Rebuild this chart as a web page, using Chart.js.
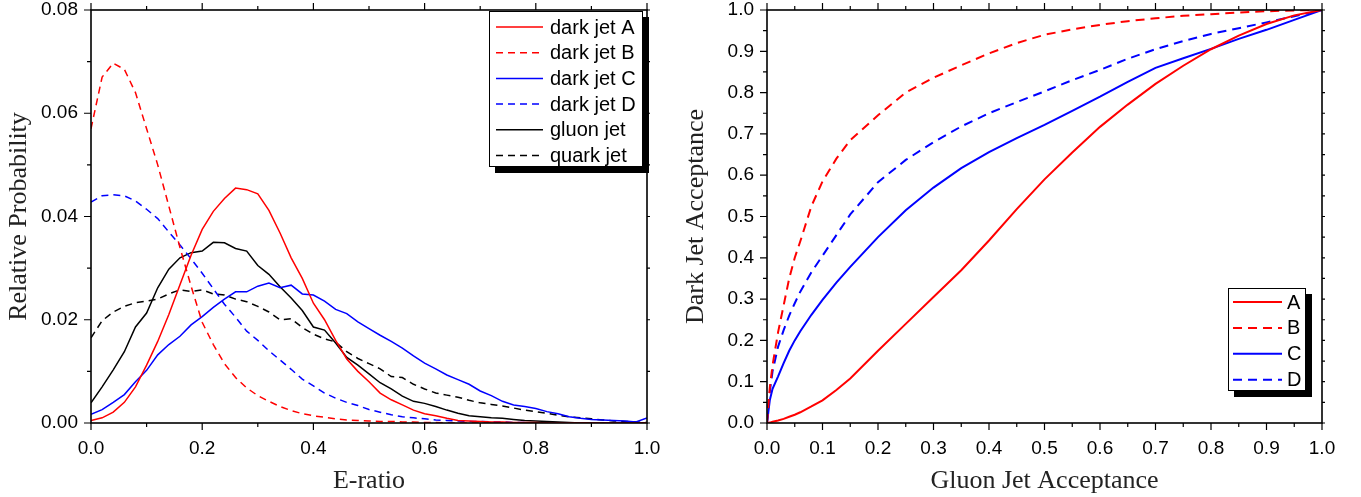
<!DOCTYPE html>
<html>
<head>
<meta charset="utf-8">
<script src="https://cdn.jsdelivr.net/npm/chart.js@4/dist/chart.umd.min.js"></script>
<style>
  html, body { margin: 0; padding: 0; background: #fff; }
  #wrap { position: relative; width: 1361px; height: 497px; }
  #left { position: absolute; left: 0; top: 0; }
  #right { position: absolute; left: 680px; top: 0; }
</style>
</head>
<body>
<div id="wrap">
  <canvas id="left" width="680" height="497"></canvas>
  <canvas id="right" width="681" height="497"></canvas>
</div>
<script>
// left panel: E-ratio distributions (every 0.02)
const eRatio = [0.00, 0.02, 0.04, 0.06, 0.08, 0.10, 0.12, 0.14, 0.16, 0.18,
  0.20, 0.22, 0.24, 0.26, 0.28, 0.30, 0.32, 0.34, 0.36, 0.38,
  0.40, 0.42, 0.44, 0.46, 0.48, 0.50, 0.52, 0.54, 0.56, 0.58,
  0.60, 0.62, 0.64, 0.66, 0.68, 0.70, 0.72, 0.74, 0.76, 0.78,
  0.80, 0.82, 0.84, 0.86, 0.88, 0.90, 0.92, 0.94, 0.96, 0.98, 1.00];

const darkJetA = [0.0005, 0.0010, 0.0021, 0.0040, 0.0070, 0.0112, 0.0158, 0.0210, 0.0268, 0.0325,
  0.0375, 0.0410, 0.0435, 0.0455, 0.0452, 0.0444, 0.0412, 0.0368, 0.0320, 0.0280,
  0.0232, 0.0200, 0.0160, 0.0124, 0.0100, 0.0080, 0.0058, 0.0045, 0.0035, 0.0025,
  0.0018, 0.0014, 0.0009, 0.0005, 0.0004, 0.0003, 0.0002, 0.0002, 0.0001, 0.0001,
  0.0001, 0, 0, 0, 0, 0, 0, 0, 0, 0, 0];
const darkJetB = [0.0570, 0.0670, 0.0697, 0.0685, 0.0640, 0.0570, 0.0500, 0.0420, 0.0340, 0.0265,
  0.0195, 0.0152, 0.0115, 0.0088, 0.0068, 0.0053, 0.0042, 0.0032, 0.0024, 0.0018,
  0.0014, 0.0011, 0.0008, 0.0006, 0.0005, 0.0004, 0.0003, 0.0003, 0.0002, 0.0002,
  0.0001, 0.0001, 0, 0, 0, 0, 0, 0, 0, 0,
  0, 0, 0, 0, 0, 0, 0, 0, 0, 0, 0];
const darkJetC = [0.0017, 0.0026, 0.0040, 0.0055, 0.0080, 0.0102, 0.0132, 0.0152, 0.0168, 0.0190,
  0.0206, 0.0224, 0.0240, 0.0254, 0.0254, 0.0265, 0.0271, 0.0262, 0.0267, 0.0250,
  0.0248, 0.0236, 0.0220, 0.0212, 0.0196, 0.0183, 0.0170, 0.0158, 0.0145, 0.0130,
  0.0116, 0.0105, 0.0093, 0.0084, 0.0075, 0.0062, 0.0053, 0.0042, 0.0035, 0.0032,
  0.0028, 0.0022, 0.0018, 0.0012, 0.0009, 0.0007, 0.0006, 0.0005, 0.0004, 0.0002, 0.0010];
const darkJetD = [0.0428, 0.0440, 0.0442, 0.0440, 0.0430, 0.0414, 0.0396, 0.0370, 0.0345, 0.0318,
  0.0290, 0.0260, 0.0230, 0.0205, 0.0178, 0.0160, 0.0140, 0.0122, 0.0104, 0.0085,
  0.0072, 0.0058, 0.0048, 0.0040, 0.0034, 0.0026, 0.0021, 0.0016, 0.0012, 0.0010,
  0.0008, 0.0006, 0.0005, 0.0004, 0.0003, 0.0003, 0.0002, 0.0002, 0.0001, 0.0001,
  0, 0, 0, 0, 0, 0, 0, 0, 0, 0, 0];
const gluonJet = [0.0039, 0.0070, 0.0103, 0.0138, 0.0186, 0.0213, 0.0262, 0.0298, 0.0320, 0.0330,
  0.0333, 0.0350, 0.0349, 0.0338, 0.0333, 0.0305, 0.0288, 0.0264, 0.0242, 0.0218,
  0.0186, 0.0180, 0.0155, 0.0127, 0.0112, 0.0095, 0.0078, 0.0066, 0.0052, 0.0042,
  0.0038, 0.0032, 0.0025, 0.0019, 0.0014, 0.0012, 0.0010, 0.0009, 0.0007, 0.0005,
  0.0004, 0.0003, 0.0002, 0.0001, 0, 0, 0, 0, 0, 0, 0];
const quarkJet = [0.0165, 0.0198, 0.0215, 0.0226, 0.0233, 0.0236, 0.0240, 0.0250, 0.0258, 0.0255,
  0.0258, 0.0250, 0.0248, 0.0240, 0.0235, 0.0226, 0.0215, 0.0200, 0.0202, 0.0185,
  0.0172, 0.0163, 0.0157, 0.0138, 0.0125, 0.0115, 0.0105, 0.0090, 0.0088, 0.0075,
  0.0066, 0.0058, 0.0054, 0.0050, 0.0044, 0.0039, 0.0036, 0.0033, 0.0029, 0.0025,
  0.0022, 0.0019, 0.0015, 0.0012, 0.0010, 0.0008, 0.0006, 0.0004, 0.0003, 0.0002, 0.0001];

// right panel: acceptance curves
const gluonAcc = [0, 0.005, 0.01, 0.02, 0.03, 0.04, 0.05, 0.06, 0.08, 0.1,
  0.125, 0.15, 0.2, 0.25, 0.3, 0.35, 0.4, 0.45, 0.5, 0.55,
  0.6, 0.65, 0.7, 0.75, 0.8, 0.85, 0.9, 0.95, 1];
const accA = [0, 0.001, 0.003, 0.006, 0.010, 0.015, 0.020, 0.026, 0.040, 0.055,
  0.080, 0.108, 0.175, 0.240, 0.305, 0.370, 0.442, 0.518, 0.590, 0.655,
  0.717, 0.771, 0.821, 0.865, 0.905, 0.938, 0.966, 0.987, 1];
const accB = [0, 0.085, 0.140, 0.220, 0.285, 0.350, 0.400, 0.440, 0.525, 0.585,
  0.640, 0.685, 0.745, 0.800, 0.836, 0.866, 0.895, 0.920, 0.940, 0.953,
  0.964, 0.973, 0.980, 0.986, 0.990, 0.994, 0.997, 0.999, 1];
const accC = [0, 0.055, 0.083, 0.113, 0.145, 0.175, 0.200, 0.222, 0.262, 0.298,
  0.340, 0.378, 0.450, 0.515, 0.570, 0.617, 0.656, 0.690, 0.722, 0.756,
  0.790, 0.826, 0.860, 0.883, 0.906, 0.930, 0.952, 0.976, 1];
const accD = [0, 0.075, 0.125, 0.185, 0.225, 0.260, 0.290, 0.318, 0.365, 0.405,
  0.455, 0.505, 0.583, 0.637, 0.680, 0.718, 0.750, 0.777, 0.803, 0.830,
  0.855, 0.882, 0.905, 0.925, 0.942, 0.956, 0.970, 0.985, 1];

const tickFont = { family: 'Liberation Sans', size: 19 };
const titleFont = { family: 'Liberation Serif', size: 26 };

function lineSet(label, xs, ys, color, dash, width) {
  return {
    label: label,
    data: xs.map((x, i) => ({ x: x, y: ys[i] })),
    borderColor: color,
    backgroundColor: color,
    borderWidth: width,
    borderDash: dash,
    pointRadius: 0,
    fill: false,
    tension: 0
  };
}

// box around the plot, with major/minor ticks on all four sides
const frameTicks = {
  id: 'frameTicks',
  afterDraw(chart, args, o) {
    const ctx = chart.ctx, a = chart.chartArea;
    const xs = chart.scales.x, ys = chart.scales.y;
    ctx.save();
    ctx.strokeStyle = '#000';
    ctx.lineWidth = 1.2;
    ctx.beginPath();
    for (let i = 0; i <= o.xCount; i++) {
      const px = xs.getPixelForValue(xs.min + i * o.xStep);
      const len = (i % 2 === 0) ? 7 : 4;
      ctx.moveTo(px, a.bottom); ctx.lineTo(px, a.bottom + len);
      ctx.moveTo(px, a.top); ctx.lineTo(px, a.top - len);
    }
    for (let i = 0; i <= o.yCount; i++) {
      const py = ys.getPixelForValue(ys.min + i * o.yStep);
      const len = (i % 2 === 0) ? 7 : 4;
      ctx.moveTo(a.left, py); ctx.lineTo(a.left - len, py);
      ctx.moveTo(a.right, py); ctx.lineTo(a.right + 3, py);
    }
    ctx.stroke();
    ctx.lineWidth = 1.6;
    ctx.strokeRect(a.left, a.top, a.right - a.left, a.bottom - a.top);
    ctx.restore();
  }
};

// framed legend with a drop shadow
const boxLegend = {
  id: 'boxLegend',
  afterDraw(chart, args, o) {
    const ctx = chart.ctx, a = chart.chartArea;
    const x0 = a.right - o.right - o.width;
    const y0 = o.bottom != null ? a.bottom - o.bottom - o.height : a.top + o.top;
    ctx.save();
    ctx.fillStyle = '#000';
    ctx.fillRect(x0 + 6, y0 + 6, o.width, o.height);
    ctx.fillStyle = '#fff';
    ctx.fillRect(x0, y0, o.width, o.height);
    ctx.strokeStyle = '#000';
    ctx.lineWidth = 1;
    ctx.strokeRect(x0 + 0.5, y0 + 0.5, o.width - 1, o.height - 1);
    ctx.font = '20px "Liberation Sans"';
    ctx.textBaseline = 'middle';
    chart.data.datasets.forEach((d, i) => {
      const cy = y0 + o.first + o.row * i;
      ctx.strokeStyle = d.borderColor;
      ctx.lineWidth = d.borderWidth;
      ctx.setLineDash(d.borderDash || []);
      ctx.beginPath();
      ctx.moveTo(x0 + o.lineX, cy);
      ctx.lineTo(x0 + o.lineX + o.sample, cy);
      ctx.stroke();
      ctx.setLineDash([]);
      ctx.fillStyle = '#000';
      ctx.fillText(d.label, x0 + o.textX, cy + 1);
    });
    ctx.restore();
  }
};

function axis(min, max, step, digits, title, titlePad, fitSize, horizontal) {
  const s = {
    type: 'linear', min: min, max: max,
    ticks: { stepSize: step, callback: v => Number(v).toFixed(digits), font: tickFont, color: '#000',
             padding: horizontal ? 7 : 6, maxRotation: 0, autoSkip: false },
    grid: { drawOnChartArea: false, drawTicks: true, tickLength: 7,
            color: 'rgba(0,0,0,0)', tickColor: 'rgba(0,0,0,0)' },
    border: { display: false },
    title: { display: true, text: title, font: titleFont, color: '#222', padding: titlePad }
  };
  // fixed axis sizes so the plot boxes sit where the reference has them
  if (horizontal) s.afterFit = sc => { sc.height = fitSize; sc.paddingLeft = 0; sc.paddingRight = 0; };
  else s.afterFit = sc => { sc.width = fitSize; sc.paddingTop = 0; sc.paddingBottom = 0; };
  return s;
}

new Chart(document.getElementById('left'), {
  type: 'line',
  data: {
    datasets: [
      lineSet('dark jet A', eRatio, darkJetA, '#ff0000', [], 1.5),
      lineSet('dark jet B', eRatio, darkJetB, '#ff0000', [7, 5], 1.5),
      lineSet('dark jet C', eRatio, darkJetC, '#0000ff', [], 1.5),
      lineSet('dark jet D', eRatio, darkJetD, '#0000ff', [7, 5], 1.5),
      lineSet('gluon jet', eRatio, gluonJet, '#000000', [], 1.5),
      lineSet('quark jet', eRatio, quarkJet, '#000000', [7, 5], 1.5)
    ]
  },
  options: {
    responsive: false,
    animation: false,
    layout: { padding: { top: 10, right: 33, left: 0, bottom: 0 } },
    plugins: {
      legend: { display: false },
      tooltip: { enabled: false },
      frameTicks: { xStep: 0.1, xCount: 10, yStep: 0.01, yCount: 8 },
      boxLegend: { right: 4, top: 1, width: 154, height: 156, first: 16, row: 25.7, lineX: 7, sample: 47, textX: 61 }
    },
    scales: {
      x: axis(0, 1, 0.2, 1, 'E-ratio', { top: 0, bottom: 0 }, 74, true),
      y: axis(0, 0.08, 0.02, 2, 'Relative Probability', { top: 4, bottom: 0 }, 91, false)
    }
  },
  plugins: [frameTicks, boxLegend]
});

new Chart(document.getElementById('right'), {
  type: 'line',
  data: {
    datasets: [
      lineSet('A', gluonAcc, accA, '#ff0000', [], 2),
      lineSet('B', gluonAcc, accB, '#ff0000', [9, 6], 2),
      lineSet('C', gluonAcc, accC, '#0000ff', [], 2),
      lineSet('D', gluonAcc, accD, '#0000ff', [9, 6], 2)
    ]
  },
  options: {
    responsive: false,
    animation: false,
    layout: { padding: { top: 10, right: 39, left: 0, bottom: 0 } },
    plugins: {
      legend: { display: false },
      tooltip: { enabled: false },
      frameTicks: { xStep: 0.05, xCount: 20, yStep: 0.05, yCount: 20 },
      boxLegend: { right: 16, bottom: 32, width: 78, height: 103, first: 14, row: 25.9, lineX: 5, sample: 49, textX: 59 }
    },
    scales: {
      x: axis(0, 1, 0.1, 1, 'Gluon Jet Acceptance', { top: 0, bottom: 0 }, 74, true),
      y: axis(0, 1, 0.1, 1, 'Dark Jet Acceptance', { top: 1, bottom: 0 }, 87, false)
    }
  },
  plugins: [frameTicks, boxLegend]
});
</script>
</body>
</html>
